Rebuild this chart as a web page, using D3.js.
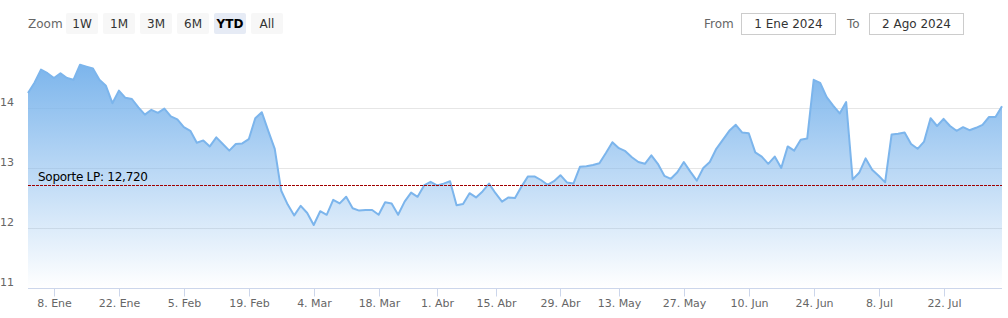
<!DOCTYPE html>
<html>
<head>
<meta charset="utf-8">
<script src="https://cdn.jsdelivr.net/npm/d3@7"></script>
<style>
  body { margin: 0; background: #fff; }
  svg { display: block; font-family: "DejaVu Sans", "Lucida Grande", Arial, sans-serif; }
</style>
</head>
<body>
<script>
var w = 1008, h = 318;
var margin = {top: 48, right: 6, bottom: 30, left: 28};

// trading days: weekdays from 2 Jan to 2 Aug 2024, minus market holidays
var startDay = new Date(2024, 0, 2), endDay = new Date(2024, 7, 2);
var holidays = ['2024-03-29', '2024-04-01', '2024-05-01'];

// closing prices, one per trading day
var closes = [
  14.25, 14.42, 14.64, 14.58, 14.50, 14.58, 14.50, 14.47, 14.72, 14.69,
  14.66, 14.47, 14.37, 14.08, 14.29, 14.17, 14.15, 14.01, 13.89, 13.97,
  13.92, 13.99, 13.86, 13.81, 13.68, 13.62, 13.42, 13.46, 13.36, 13.51,
  13.40, 13.29, 13.40, 13.41, 13.48, 13.83, 13.93, 13.62, 13.32, 12.62,
  12.39, 12.21, 12.37, 12.25, 12.05,
  12.28, 12.22, 12.47, 12.41, 12.52, 12.33, 12.29, 12.30, 12.30, 12.22,
  12.43, 12.41, 12.22, 12.44, 12.59, 12.52, 12.71, 12.77, 12.71, 12.74,
  12.78, 12.38, 12.40, 12.58, 12.51, 12.61, 12.74, 12.58, 12.44, 12.51,
  12.50, 12.69, 12.86, 12.86, 12.80, 12.72, 12.78, 12.88, 12.76, 12.74,
  13.02, 13.03, 13.05, 13.08,
  13.25, 13.43, 13.33, 13.28, 13.18, 13.10, 13.07, 13.21, 13.07, 12.87,
  12.82, 12.93, 13.10, 12.94, 12.79, 13.00, 13.10, 13.32, 13.47, 13.62,
  13.72, 13.59, 13.58, 13.26, 13.19, 13.07, 13.19, 13.00, 13.36, 13.29,
  13.47, 13.49, 14.47, 14.42, 14.18, 14.04, 13.91, 14.10, 12.81, 12.92,
  13.16, 12.97, 12.87, 12.76, 13.56, 13.57, 13.59, 13.40, 13.32, 13.44,
  13.83, 13.70, 13.82, 13.70, 13.62, 13.68, 13.63, 13.67, 13.72, 13.85,
  13.85, 14.03
];

var yTicks = [11, 12, 13, 14];
var xTickDates = ['2024-01-08', '2024-01-22', '2024-02-05', '2024-02-19', '2024-03-04',
  '2024-03-18', '2024-04-01', '2024-04-15', '2024-04-29', '2024-05-13', '2024-05-27',
  '2024-06-10', '2024-06-24', '2024-07-08', '2024-07-22'];
var monthNames = ['Ene', 'Feb', 'Mar', 'Abr', 'May', 'Jun', 'Jul', 'Ago', 'Sep', 'Oct', 'Nov', 'Dic'];

var supportValue = 12.72;
var supportLabel = 'Soporte LP: 12,720';
var zoomButtons = ['1W', '1M', '3M', '6M', 'YTD', 'All'];
var activeButton = 'YTD';
var fromText = '1 Ene 2024', toText = '2 Ago 2024';

var fmt = d3.timeFormat('%Y-%m-%d');
var days = d3.timeDay.range(startDay, d3.timeDay.offset(endDay, 1))
  .filter(function(d) { return d.getDay() !== 0 && d.getDay() !== 6 && holidays.indexOf(fmt(d)) < 0; });
var data = days.map(function(d, i) { return {date: d, i: i, v: closes[i]}; });

var svg = d3.select('body').append('svg')
  .attr('width', w)
  .attr('height', h);

var x = d3.scaleLinear().domain([0, data.length - 1]).range([margin.left, w - margin.right]);
var y = d3.scaleLinear().domain([11, 15]).range([h - margin.bottom, h - margin.bottom - 240]);

// gradient for the area
var grad = svg.append('defs').append('linearGradient')
  .attr('id', 'fillGrad')
  .attr('x1', 0).attr('y1', 0).attr('x2', 0).attr('y2', 1);
grad.append('stop').attr('offset', '0%').attr('stop-color', '#7cb5ec').attr('stop-opacity', 1);
grad.append('stop').attr('offset', '100%').attr('stop-color', '#7cb5ec').attr('stop-opacity', 0);

// grid
svg.append('g').selectAll('line')
  .data(yTicks.filter(function(t) { return t > 11; }))
  .enter().append('line')
  .attr('x1', margin.left).attr('x2', w - margin.right)
  .attr('y1', function(d) { return Math.round(y(d)) + 0.5; })
  .attr('y2', function(d) { return Math.round(y(d)) + 0.5; })
  .attr('stroke', '#e6e6e6');

svg.append('g').selectAll('text')
  .data(yTicks)
  .enter().append('text')
  .attr('x', 0)
  .attr('y', function(d) { return y(d) - 2; })
  .attr('fill', '#666')
  .style('font-size', '11px')
  .text(function(d) { return d; });

var area = d3.area()
  .x(function(d) { return x(d.i); })
  .y0(y(11))
  .y1(function(d) { return y(d.v); });
var line = d3.line()
  .x(function(d) { return x(d.i); })
  .y(function(d) { return y(d.v); });

svg.append('path').datum(data)
  .attr('d', area)
  .attr('fill', 'url(#fillGrad)');
svg.append('path').datum(data)
  .attr('d', line)
  .attr('fill', 'none')
  .attr('stroke', '#7cb5ec')
  .attr('stroke-width', 2)
  .attr('stroke-linejoin', 'round');

// support line
svg.append('line')
  .attr('x1', margin.left).attr('x2', w - margin.right)
  .attr('y1', Math.round(y(supportValue)) + 0.5)
  .attr('y2', Math.round(y(supportValue)) + 0.5)
  .attr('stroke', '#a00000')
  .attr('stroke-dasharray', '3,1');
svg.append('text')
  .attr('x', 38)
  .attr('y', y(supportValue) - 4)
  .attr('fill', '#000')
  .style('font-size', '12px')
  .attr('textLength', 110)
  .text(supportLabel);

// x axis
var axisY = Math.round(y(11)) + 0.5;
svg.append('line')
  .attr('x1', margin.left).attr('x2', w - margin.right)
  .attr('y1', axisY).attr('y2', axisY)
  .attr('stroke', '#ccd6eb');

var tickIdx = xTickDates.map(function(s) {
  var t = d3.timeParse('%Y-%m-%d')(s);
  var k = d3.bisector(function(d) { return d.date; }).left(data, t);
  return {date: t, i: k};
});
var xt = svg.append('g').selectAll('g')
  .data(tickIdx)
  .enter().append('g')
  .attr('transform', function(d) { return 'translate(' + (Math.round(x(d.i)) + 0.5) + ',0)'; });
xt.append('line')
  .attr('y1', axisY).attr('y2', axisY + 8)
  .attr('stroke', '#ccd6eb');
xt.append('text')
  .attr('y', axisY + 18)
  .attr('text-anchor', 'middle')
  .attr('fill', '#666')
  .style('font-size', '11px')
  .text(function(d) { return d.date.getDate() + '. ' + monthNames[d.date.getMonth()]; });

// range selector
svg.append('text')
  .attr('x', 28).attr('y', 28)
  .attr('fill', '#666')
  .style('font-size', '12px')
  .text('Zoom');

var btn = svg.append('g').selectAll('g')
  .data(zoomButtons)
  .enter().append('g')
  .attr('transform', function(d, i) { return 'translate(' + (66 + i * 37) + ',13)'; });
btn.append('rect')
  .attr('width', 32).attr('height', 21).attr('rx', 2)
  .attr('fill', function(d) { return d === activeButton ? '#e6ebf5' : '#f7f7f7'; });
btn.append('text')
  .attr('x', 16).attr('y', 15)
  .attr('text-anchor', 'middle')
  .attr('fill', function(d) { return d === activeButton ? '#000' : '#333'; })
  .style('font-weight', function(d) { return d === activeButton ? 'bold' : 'normal'; })
  .style('font-size', '12px')
  .text(function(d) { return d; });

svg.append('text').attr('x', 704).attr('y', 28)
  .attr('fill', '#666').style('font-size', '12px').text('From');
svg.append('text').attr('x', 847).attr('y', 28)
  .attr('fill', '#666').style('font-size', '12px').text('To');

[[741.5, fromText], [869.5, toText]].forEach(function(b) {
  svg.append('rect')
    .attr('x', b[0]).attr('y', 13.5)
    .attr('width', 94).attr('height', 21)
    .attr('fill', '#fff').attr('stroke', '#ccc');
  svg.append('text')
    .attr('x', b[0] + 47).attr('y', 28)
    .attr('text-anchor', 'middle')
    .attr('fill', '#333')
    .style('font-size', '12px')
    .text(b[1]);
});
</script>
</body>
</html>
